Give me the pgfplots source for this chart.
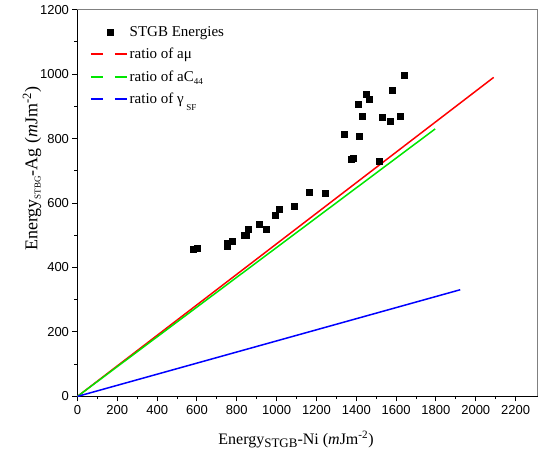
\documentclass[border=0pt]{standalone}
\usepackage{fontspec}
\setmainfont{Liberation Serif}
\newfontfamily\arialfont{Liberation Sans}
\usepackage{pgfplots}
\pgfplotsset{compat=1.18}

\definecolor{lred}{RGB}{255,0,0}
\definecolor{lgreen}{RGB}{0,230,0}
\definecolor{lblue}{RGB}{0,0,255}

\begin{document}
\begin{tikzpicture}
\begin{axis}[
  scale only axis,
  width=460pt, height=386.7pt,
  xmin=0, xmax=2310,
  ymin=0, ymax=1200,
  xtick={0,200,...,2200},
  ytick={0,200,...,1200},
  minor x tick num=1,
  minor y tick num=1,
  axis x line*=bottom,
  axis y line*=left,
  axis line style={line width=1.2pt},
  tick align=outside,
  major tick length=5pt,
  minor tick length=3pt,
  tick style={black, line width=1pt},
  /pgf/number format/assume math mode=true,
  /pgf/number format/1000 sep={},
  tick label style={font=\arialfont\fontsize{13}{14}\selectfont},
  xlabel={Energy\raisebox{-0.45ex}{\fontsize{13}{13}\selectfont STGB}-Ni (\textit{m}Jm\textsuperscript{-2})},
  ylabel={Energy\raisebox{-0.4ex}{\fontsize{9}{9}\selectfont STBG}-Ag (\textit{m}Jm\textsuperscript{-2})},
  xlabel style={font=\fontsize{16}{18}\selectfont, at={(axis description cs:0.475,-0.111)}, anchor=center},
  ylabel style={font=\fontsize{18}{20}\selectfont, at={(axis description cs:-0.099,0.589)}, anchor=center},
  legend cell align=left,
  legend style={draw=none, fill=none, at={(0.02,0.968)}, anchor=north west,
    font=\fontsize{15}{17}\selectfont, row sep=6.5pt},
  % two short pieces of line, as in the Origin legend
  legend image code/.code={
    \draw[#1, line width=1.8pt] (0pt,0pt) -- (12pt,0pt) (24pt,0pt) -- (36pt,0pt);
  },
]
\addplot[only marks, mark=square*, mark size=3pt, black,
  legend image code/.code={\path (0pt,0pt) (36pt,0pt);
    \fill[black] (16pt,-3pt) rectangle (22pt,3pt);}]
  coordinates {
  (582,458) (601,460) (754,466) (754,476) (776,483)
  (839,501) (846,499) (859,520) (912,535) (947,520)
  (991,562) (1011,580) (1086,590) (1162,634) (1244,631)
  (1337,813) (1376,735) (1384,738) (1408,907) (1414,808)
  (1428,868) (1452,937) (1467,921) (1514,731) (1531,866)
  (1571,855) (1582,950) (1619,868) (1642,997)
};
\addlegendentry{STGB Energies}
\addplot[lred, line width=1.5pt] coordinates {(0,0) (2090,990)};
\addlegendentry{ratio of aμ}
\addplot[lgreen, line width=1.5pt] coordinates {(0,0) (1796,830)};
\addlegendentry{ratio of aC\raisebox{-0.5ex}{\fontsize{9}{9}\selectfont 44}}
\addplot[lblue, line width=1.5pt] coordinates {(0,0) (1922,331)};
\addlegendentry{ratio of γ\,\raisebox{-0.9ex}{\fontsize{9}{9}\selectfont SF}}
\end{axis}
\draw[gray, line width=0.8pt] (current axis.north west) -- (current axis.north east) -- (current axis.south east);
\pgfresetboundingbox
\path (current axis.south west) +(-77.5pt,-64.3pt) (current axis.north east) +(4.5pt,9.7pt);
\end{tikzpicture}
\end{document}
